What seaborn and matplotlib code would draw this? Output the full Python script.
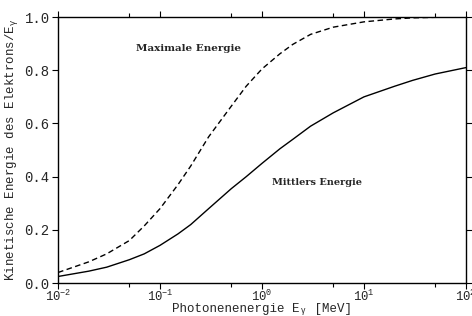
import numpy as np
import pandas as pd
import matplotlib
matplotlib.use("Agg")
import matplotlib.pyplot as plt
from matplotlib.ticker import LogLocator, FixedLocator
import seaborn as sns

# photon energy [MeV] and electron kinetic energy fraction T/E_gamma
energy = [0.01, 0.02, 0.03, 0.05, 0.07, 0.1, 0.15, 0.2, 0.3, 0.5, 0.7, 1, 1.5, 2, 3,
          5, 10, 20, 30, 50, 100]
max_frac = [0.04, 0.08, 0.11, 0.16, 0.215, 0.28, 0.37, 0.44, 0.55, 0.665, 0.74,
            0.805, 0.862, 0.897, 0.935, 0.962, 0.982, 0.993, 0.997, 0.999, 1.0]
mean_frac = [0.025, 0.045, 0.06, 0.088, 0.11, 0.142, 0.185, 0.22, 0.28, 0.355, 0.40,
             0.45, 0.505, 0.54, 0.59, 0.64, 0.70, 0.74, 0.762, 0.786, 0.81]

df = pd.concat([
    pd.DataFrame({"E": energy, "frac": max_frac, "kind": "max"}),
    pd.DataFrame({"E": energy, "frac": mean_frac, "kind": "mean"}),
])

sns.set_style("ticks")
plt.rcParams["font.family"] = ["Liberation Mono", "DejaVu Sans"]
plt.rcParams["mathtext.fontset"] = "custom"
plt.rcParams["mathtext.rm"] = "Liberation Mono"
plt.rcParams["mathtext.it"] = "Liberation Mono"

fig = plt.figure(figsize=(4.72, 3.16), dpi=100)
ax = fig.add_axes([0.123, 0.104, 0.864, 0.842])

sns.lineplot(data=df, x="E", y="frac", style="kind",
             dashes={"max": (4, 2.5), "mean": ""}, color="black",
             linewidth=1.0, legend=False, ax=ax)

ax.set_xscale("log")
ax.set_xlim(0.01, 100)
ax.set_ylim(0, 1.0)
ax.xaxis.set_major_locator(LogLocator(base=10, numticks=10))
ax.xaxis.set_minor_locator(FixedLocator([0.05, 0.5, 5, 50]))
ax.set_yticks([0, 0.2, 0.4, 0.6, 0.8, 1.0])
ax.set_yticklabels(["0.0", "0.2", "0.4", "0.6", "0.8", "1.0"])
ax.tick_params(which="both", direction="out", top=True, right=True,
               labeltop=False, labelright=False, color="black", width=0.8)
ax.tick_params(which="major", length=4, labelsize=10)
ax.tick_params(which="minor", length=3)
ax.tick_params(axis="x", which="major", pad=0, labelsize=8.8)
ax.tick_params(axis="y", which="major", pad=2)
for s in ax.spines.values():
    s.set_linewidth(1.0)
    s.set_color("black")

ax.set_xlabel("Photonenenergie E\u1d67 [MeV]", fontsize=9, labelpad=-1)
ax.set_ylabel("Kinetische Energie des Elektrons/E$_\\gamma$", fontsize=9, labelpad=3)

ax.text(0.058, 0.88, "Maximale Energie", fontsize=7.5, fontweight="bold",
        family="DejaVu Serif", va="center")
ax.text(1.25, 0.377, "Mittlers Energie", fontsize=7, fontweight="bold",
        family="DejaVu Serif", va="center")

fig.savefig("out.png", dpi=100)
